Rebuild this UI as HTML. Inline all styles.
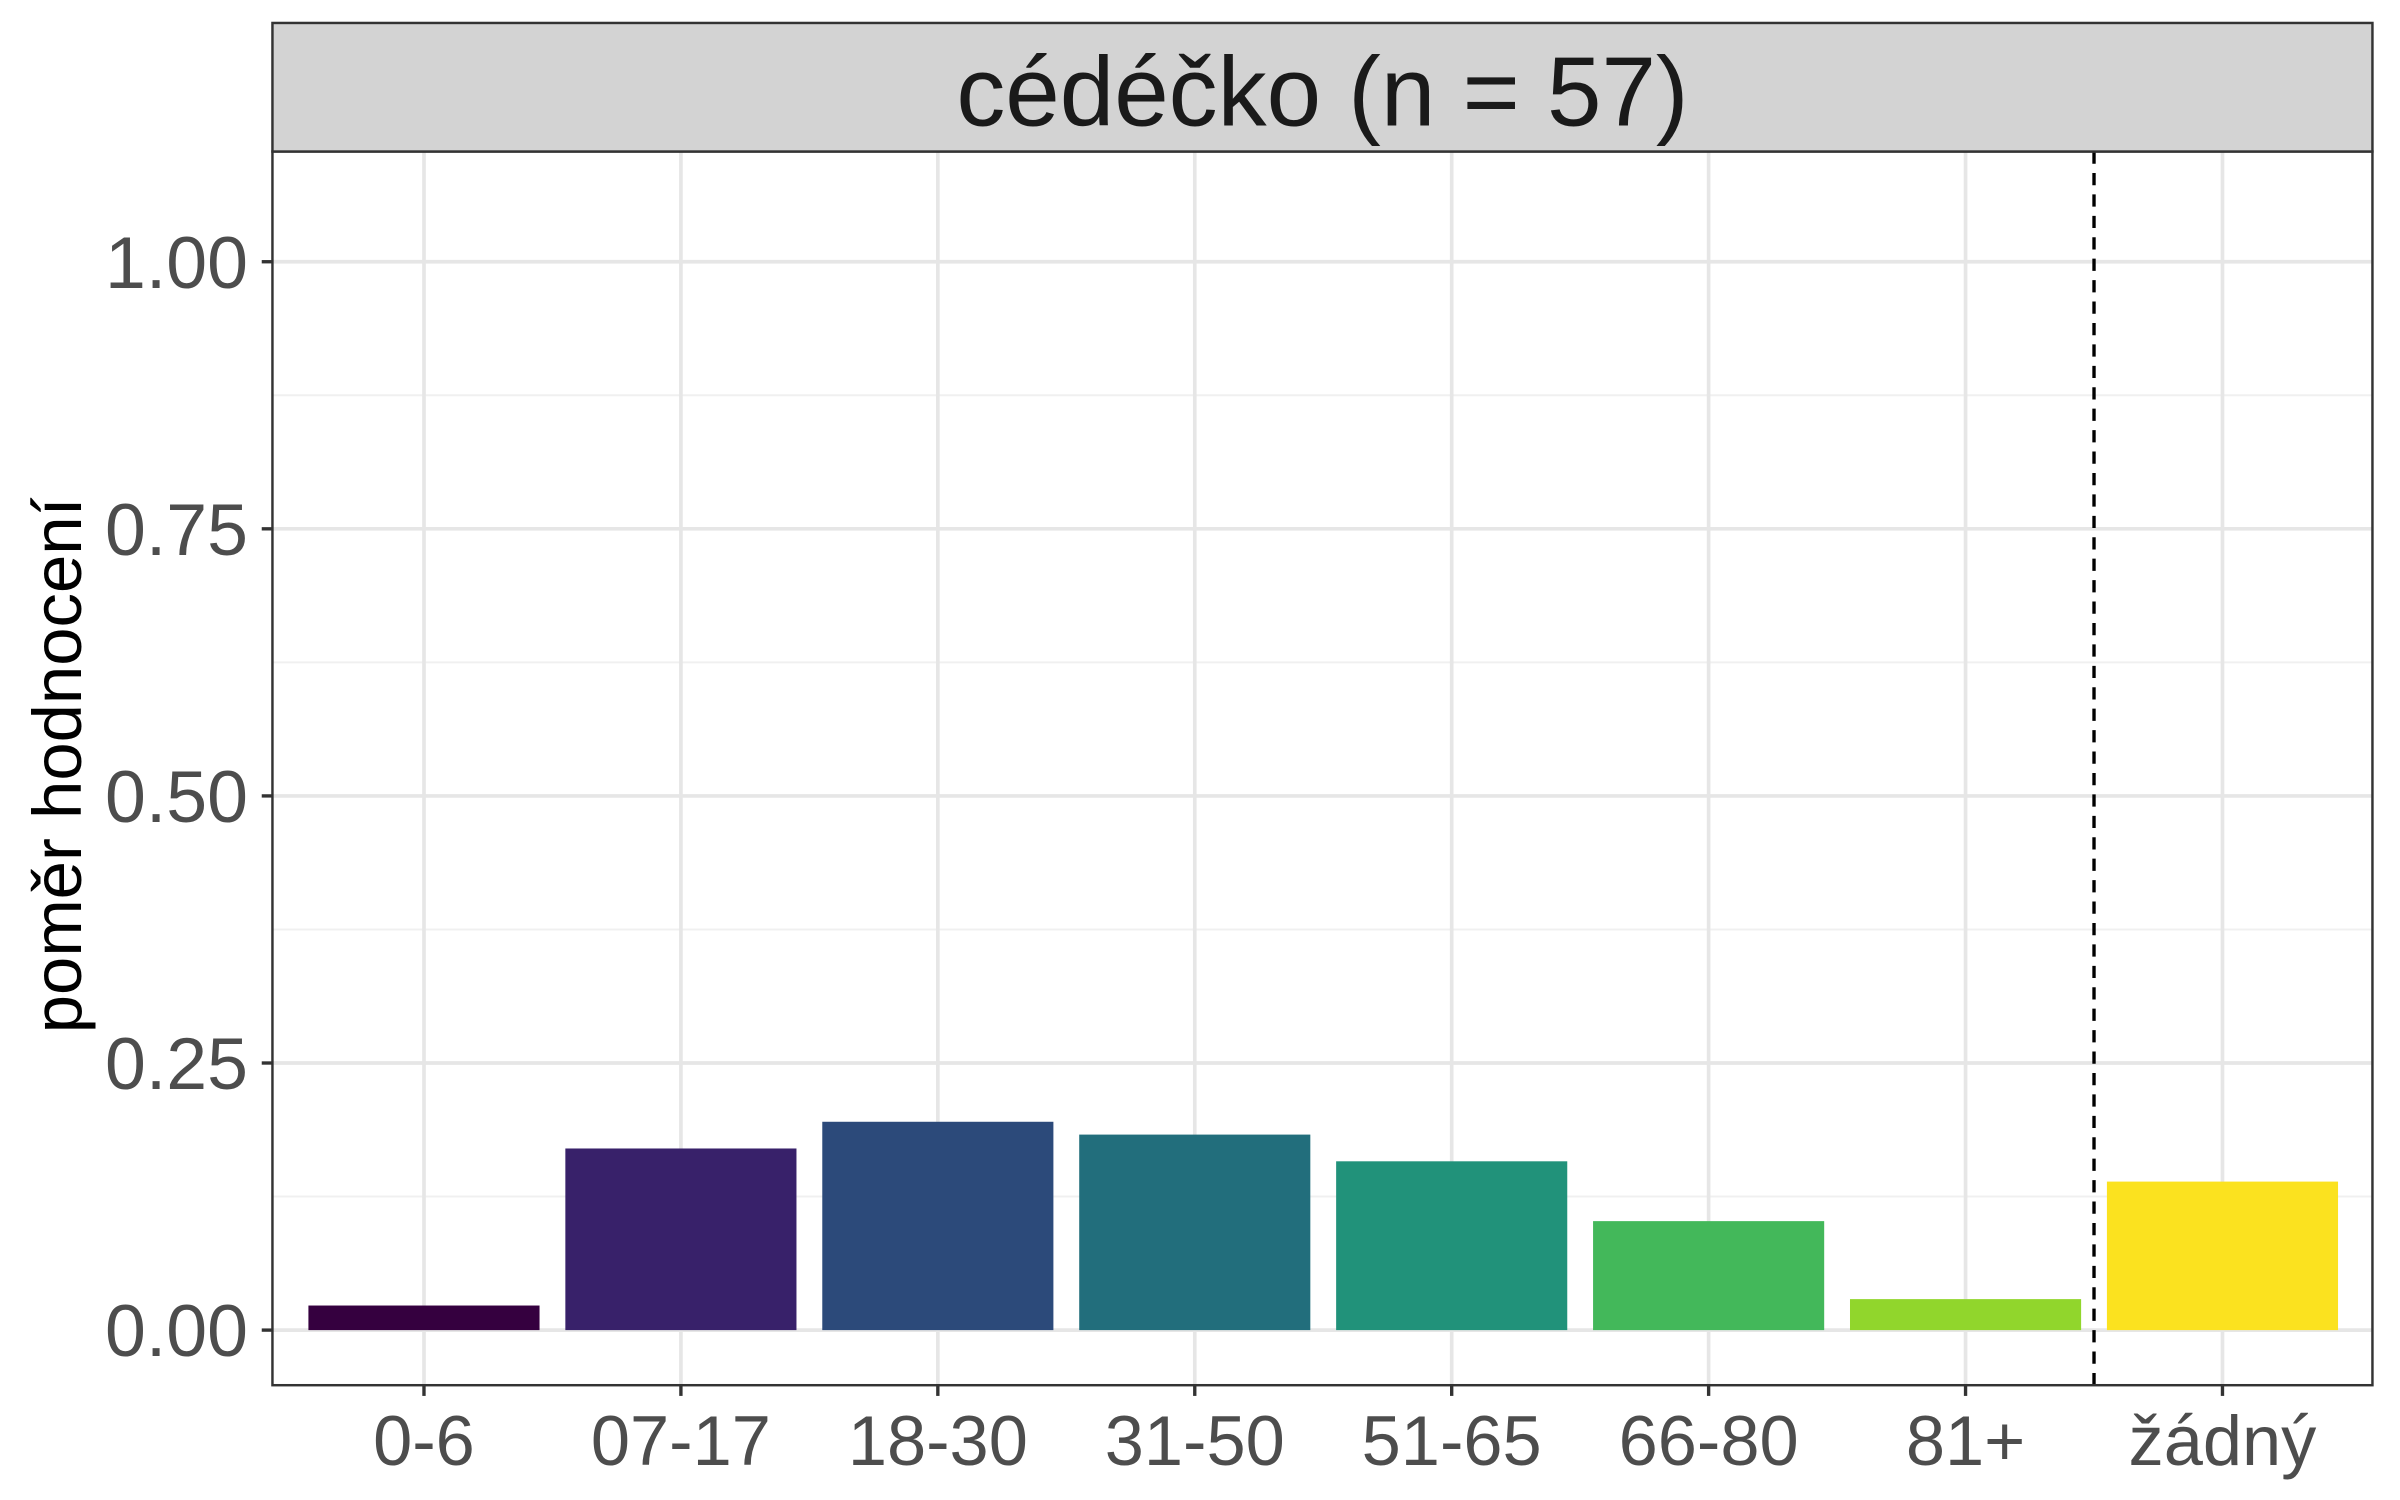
<!DOCTYPE html>
<html><head><meta charset="utf-8"><style>html,body{margin:0;padding:0;background:#fff}svg{display:block}</style></head>
<body>
<svg id="chart" width="2400" height="1500" viewBox="0 0 1568 980" xmlns="http://www.w3.org/2000/svg" font-family="'Liberation Sans', 'DejaVu Sans', sans-serif"></svg>
<script>
const categories = ["0-6","07-17","18-30","31-50","51-65","66-80","81+","žádný"];
const values = [0.023,0.170,0.195,0.183,0.158,0.102,0.029,0.139];
const colors = ["#35003f","#38216a","#2c4a7a","#226e7c","#21927a","#43b85a","#91d62c","#fbe21f"];
const yTicks = [0,0.25,0.5,0.75,1.0];
const yTickLabels = ["0.00","0.25","0.50","0.75","1.00"];
const yMinor = [0.125,0.375,0.625,0.875];
const titleText = "cédéčko (n = 57)";

const NS="http://www.w3.org/2000/svg";
const svg=document.getElementById('chart');
const L=178,R=1550,T=99,B=905,ST=15;
function x(i){return 277+(i)*167.86;}
function y(v){return 869-v*698;}
function mk(tag,attrs,parent){const e=document.createElementNS(NS,tag);for(const k in attrs)e.setAttribute(k,attrs[k]);(parent||svg).appendChild(e);return e;}

mk('rect',{x:L,y:T,width:R-L,height:B-T,fill:'#fff'});
yMinor.forEach(v=>{const g=mk('line',{x1:L,x2:R,y1:y(v),y2:y(v),stroke:'#f0f0f0','stroke-width':1.3});

});
yTicks.forEach(v=>{const g=mk('line',{x1:L,x2:R,y1:y(v),y2:y(v),stroke:'#e6e6e6','stroke-width':2.4});

});
categories.forEach((c,i)=>{const g=mk('line',{x1:x(i),x2:x(i),y1:T,y2:B,stroke:'#e6e6e6','stroke-width':2.4});

});
const bw=151;
categories.forEach((c,i)=>{
 const r=mk('rect',{x:x(i)-bw/2,y:y(values[i]),width:bw,height:y(0)-y(values[i]),fill:colors[i]});
 
 
});
const dl=mk('line',{x1:x(6.5),x2:x(6.5),y1:T,y2:B,stroke:'#000','stroke-width':2.2,'stroke-dasharray':'8,6'});


const border=mk('rect',{x:L,y:T,width:R-L,height:B-T,fill:'none',stroke:'#333','stroke-width':1.6});


const strip=mk('rect',{x:L,y:ST,width:R-L,height:T-ST,fill:'#d3d3d3',stroke:'#333','stroke-width':1.6});


const tt=mk('text',{x:(L+R)/2,y:82,'text-anchor':'middle','font-size':64,fill:'#1a1a1a'});tt.textContent=titleText;


yTicks.forEach((v,i)=>{
 const tk=mk('line',{x1:L-7,x2:L,y1:y(v),y2:y(v),stroke:'#333','stroke-width':2.2});
 
 
 const t=mk('text',{x:L-16,y:y(v)+17,'text-anchor':'end','font-size':48,fill:'#4d4d4d'});t.textContent=yTickLabels[i];
 
 
});
categories.forEach((c,i)=>{
 const tk=mk('line',{x1:x(i),x2:x(i),y1:B,y2:B+7,stroke:'#333','stroke-width':2.2});
 
 
 const t=mk('text',{x:x(i),y:957,'text-anchor':'middle','font-size':46,fill:'#4d4d4d'});t.textContent=c;
 
 
});
const yt=mk('text',{x:0,y:0,transform:'translate(53,500) rotate(-90)','text-anchor':'middle','font-size':45,fill:'#000'});yt.textContent="poměr hodnocení";


</script>
</body></html>
